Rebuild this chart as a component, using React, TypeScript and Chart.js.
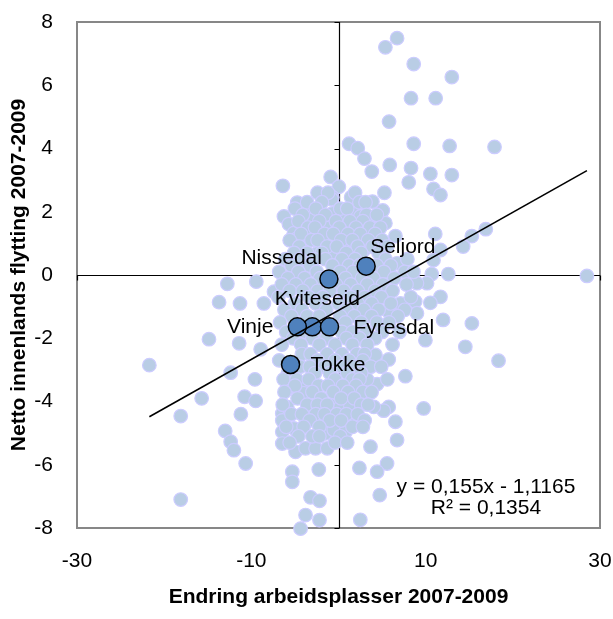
import React, { useEffect, useRef } from "react";
import { Chart, registerables } from "chart.js";

Chart.register(...registerables);

// ---------- DATA ----------
const xTickValues = [-30, -10, 10, 30];
const yTickValues = [-8, -6, -4, -2, 0, 2, 4, 6, 8];

const xTitle = "Endring arbeidsplasser 2007-2009";
const yTitle = "Netto innenlands flytting 2007-2009";

// Highlighted municipalities
const kommuneNames = ["Nissedal", "Seljord", "Kviteseid", "Vinje", "Fyresdal", "Tokke"];
const kommuneX = [-1.1, 3.17, -3.0, -4.72, -1.03, -5.5];
const kommuneY = [-0.13, 0.28, -1.64, -1.64, -1.64, -2.83];

// Trend line (linear regression)
const trendSlope = 0.155;
const trendIntercept = -1.1165;
const trendLabel = ["y = 0,155x - 1,1165", "R² = 0,1354"];

// All other municipalities [x, y]
const upperPoints: [number, number][] = [
  [6.72, 7.49], [5.38, 7.2], [8.63, 6.67], [13.0, 6.26], [8.32, 5.59], [11.15, 5.59],
  [5.8, 4.85], [1.22, 4.15], [2.21, 4.01], [8.63, 4.15], [12.75, 4.08], [17.9, 4.05],
  [2.98, 3.68], [3.82, 3.27], [5.88, 3.48], [8.32, 3.38], [8.06, 2.93], [10.54, 3.2],
  [13.0, 3.16], [10.9, 2.72], [11.7, 2.53], [5.27, 2.6], [-0.9, 3.1], [0.04, 2.79],
  [1.45, 2.46], [3.89, 2.32], [5.08, 2.04], [4.05, 1.64], [5.38, 1.64], [3.02, 1.32],
  [6.53, 1.23], [11.1, 1.3], [15.3, 1.23], [16.9, 1.45], [14.3, 0.9], [11.7, 0.79],
  [10.9, 0.47], [6.72, 0.37], [12.6, 0.03], [10.7, 0.03], [28.5, -0.03],
  [0.6, 1.85], [1.76, 1.95], [2.52, 1.85], [0.8, 1.42], [1.95, 1.1], [1.37, 0.69],
  [4.81, 0.79], [2.9, 0.79], [-0.7, 2.46],
];

const upperLeftPoints: [number, number][] = [
  [-6.38, 2.82], [-4.73, 2.29], [-3.01, 2.04], [-0.7, 1.95], [-6.26, 1.85], [-5.69, 1.61],
  [-3.09, 1.74], [-1.1, 1.55], [-5.12, 1.32], [-4.73, 1.16], [-2.06, 1.21], [-3.97, 1.0],
  [0.6, 1.48], [0.6, 1.05], [-0.92, 0.69], [1.57, 0.69], [-2.44, 0.69], [-0.8, 2.4],
];

const leftPoints: [number, number][] = [
  [-12.75, -0.28], [-9.43, -0.21], [-13.7, -0.86], [-11.3, -0.9], [-8.56, -0.9], [-7.4, -0.53],
  [-14.86, -2.03], [-11.4, -2.16], [-8.93, -2.35], [-21.7, -2.85], [-12.37, -3.09], [-9.59, -3.3],
  [-15.7, -3.9], [-10.77, -3.85], [-9.5, -3.98], [-18.1, -4.46], [-11.2, -4.4], [-13.0, -4.93],
  [-12.37, -5.27], [-12.0, -5.54], [-10.65, -5.96], [-18.1, -7.1],
];

const lowerPoints: [number, number][] = [
  [-6.45, -4.38], [-6.45, -4.96], [-6.45, -5.33], [-5.12, -4.85], [-4.93, -5.59], [-3.78, -5.48],
  [-2.63, -5.48], [-1.29, -5.48], [-5.3, -6.22], [-5.3, -6.54], [-2.26, -6.15], [-3.21, -7.03],
  [-2.18, -7.14], [-3.78, -7.59], [-2.18, -7.75], [-4.35, -8.02], [-3.97, -3.45], [-5.88, -3.59],
  [-3.01, -4.17], [-0.92, -4.11], [0.23, -4.17], [-1.49, -5.01], [-0.54, -4.9], [-5.88, -4.17],
  [-3.97, -3.74], [2.4, -6.1], [2.5, -7.74], [-6.45, -4.6],
];

const rightPoints: [number, number][] = [
  [10.16, -0.26], [9.0, -0.26], [11.7, -0.69], [10.54, -0.88], [8.8, -0.84], [7.1, -0.9],
  [5.76, -1.16], [9.0, -1.21], [12.0, -1.42], [15.3, -1.53], [9.97, -2.06], [14.55, -2.27],
  [18.36, -2.71], [5.76, -2.67], [4.24, -2.53], [7.67, -3.2], [4.43, -3.45], [3.28, -3.3],
  [9.77, -4.22], [5.76, -4.17], [5.19, -4.29], [4.05, -4.17], [6.53, -4.64], [6.72, -5.22],
  [1.95, -4.69], [1.37, -4.17], [3.67, -5.43], [5.57, -5.96], [4.43, -6.22], [4.73, -6.96],
  [0.8, -4.96],
];

const corePoints: [number, number][] = [
  [-2.4, 2.6], [-1.2, 2.6], [1.9, 2.6],
  [-3.6, 2.3], [-1.9, 2.3], [2.4, 2.3], [3.1, 2.3],
  [-5.0, 2.1], [-2.6, 2.1], [0.2, 2.1], [1.0, 2.1],
  [-4.1, 1.9], [-1.5, 1.9], [3.2, 1.9], [4.4, 1.9],
  [-4.6, 1.7], [-2.2, 1.7], [-0.3, 1.7], [1.3, 1.7], [2.8, 1.7],
  [-3.5, 1.5], [-2.7, 1.5], [0.1, 1.5], [2.0, 1.5], [3.6, 1.5], [4.8, 1.5],
  [-4.3, 1.3], [-1.6, 1.3], [-0.6, 1.3], [1.1, 1.3], [2.5, 1.3], [4.2, 1.3],
  [-5.6, 1.1], [-3.1, 1.1], [-2.4, 1.1], [0.3, 1.1], [1.6, 1.1], [3.4, 1.1], [5.0, 1.1],
  [-4.5, 0.9], [-1.3, 0.9], [-0.2, 0.9], [2.2, 0.9], [3.9, 0.9], [5.6, 0.9],
  [-5.1, 0.7], [-3.6, 0.7], [-1.9, 0.7], [0.9, 0.7], [2.6, 0.7], [4.6, 0.7],
  [-6.1, 0.5], [-4.4, 0.5], [-2.8, 0.5], [-1.5, 0.5], [0.4, 0.5], [1.9, 0.5], [5.4, 0.5], [7.9, 0.5],
  [-5.4, 0.3], [-3.3, 0.3], [-0.7, 0.3], [1.2, 0.3], [2.4, 0.3], [4.4, 0.3], [6.0, 0.3],
  [-6.8, 0.1], [-4.6, 0.1], [-2.5, 0.1], [0.2, 0.1], [1.7, 0.1], [5.2, 0.1], [7.6, 0.1], [8.6, 0.1],
  [-5.8, -0.1], [-3.9, -0.1], [-2.1, -0.1], [0.8, -0.1], [2.7, -0.1], [4.0, -0.1], [6.4, -0.1],
  [-6.5, -0.3], [-4.9, -0.3], [-3.2, -0.3], [-0.3, -0.3], [1.4, -0.3], [3.3, -0.3], [5.1, -0.3], [7.8, -0.3],
  [-5.6, -0.5], [-4.1, -0.5], [-2.4, -0.5], [-1.0, -0.5], [0.6, -0.5], [2.2, -0.5], [4.2, -0.5], [6.2, -0.5],
  [-6.9, -0.7], [-3.4, -0.7], [-1.8, -0.7], [1.4, -0.7], [3.0, -0.7], [4.9, -0.7], [8.3, -0.7],
  [-5.0, -0.9], [-2.6, -0.9], [0.0, -0.9], [2.2, -0.9], [3.8, -0.9], [6.0, -0.9],
  [-6.2, -1.1], [-4.2, -1.1], [-1.4, -1.1], [0.9, -1.1], [2.9, -1.1], [4.6, -1.1], [7.6, -1.1],
  [-5.4, -1.3], [-3.6, -1.3], [-2.2, -1.3], [0.2, -1.3], [1.8, -1.3], [3.8, -1.3], [6.8, -1.3],
  [-6.7, -1.5], [0.8, -1.5], [2.6, -1.5], [4.4, -1.5], [5.8, -1.5],
  [-6.0, -1.8], [-3.9, -1.8], [-2.2, -1.8], [0.4, -1.8], [1.6, -1.8], [3.2, -1.8], [5.0, -1.8], [7.0, -1.8],
  [-5.2, -2.0], [-3.0, -2.0], [-1.4, -2.0], [0.9, -2.0], [2.4, -2.0], [4.2, -2.0],
  [-6.5, -2.2], [-4.3, -2.2], [-2.2, -2.2], [-0.4, -2.2], [1.6, -2.2], [3.3, -2.2], [6.2, -2.2],
  [-4.2, -2.5], [-3.2, -2.5], [-1.3, -2.5], [0.4, -2.5], [2.1, -2.5], [3.0, -2.5],
  [-6.8, -2.7], [-2.4, -2.7], [-0.4, -2.7], [1.2, -2.7], [2.8, -2.7],
  [-4.4, -2.9], [-3.3, -2.9], [-1.6, -2.9], [0.4, -2.9], [1.9, -2.9], [3.7, -2.9], [4.9, -2.9],
  [-5.8, -3.1], [-2.7, -3.1], [-1.0, -3.1], [1.0, -3.1], [2.6, -3.1],
  [-6.3, -3.3], [-4.8, -3.3], [-3.4, -3.3], [-0.4, -3.3], [1.6, -3.3], [2.4, -3.3], [5.6, -3.3],
  [-5.0, -3.5], [-2.3, -3.5], [-1.2, -3.5], [0.5, -3.5], [2.0, -3.5],
  [-6.2, -3.7], [-3.0, -3.7], [-0.6, -3.7], [1.1, -3.7], [2.8, -3.7], [3.8, -3.7],
  [-4.7, -3.9], [-2.0, -3.9], [0.3, -3.9], [1.8, -3.9],
  [-6.4, -4.1], [-3.6, -4.1], [-2.4, -4.1], [-1.3, -4.1], [2.6, -4.1], [3.4, -4.1],
  [-5.4, -4.4], [-4.2, -4.4], [-2.6, -4.4], [-1.6, -4.4], [-0.2, -4.4], [0.9, -4.4], [2.2, -4.4],
  [-3.3, -4.6], [-1.0, -4.6], [0.3, -4.6], [3.0, -4.6],
  [-6.0, -4.8], [-4.0, -4.8], [-2.2, -4.8], [1.6, -4.8], [2.8, -4.8],
  [-4.6, -5.1], [-3.0, -5.1], [-2.2, -5.1], [0.2, -5.1],
  [-5.6, -5.3], [-0.4, -5.3], [1.0, -5.3],
];

// ---------- STYLE ----------
const FONT = "'Liberation Sans', Arial, sans-serif";
const lightFill = "#b9cde5";
const lightBorder = "#ccccff";
const darkFill = "#4f81bd";

const labelPlacement: Record<string, { align: CanvasTextAlign; dx: number; dy: number }> = {
  Nissedal: { align: "right", dx: -7, dy: -21 },
  Seljord: { align: "left", dx: 4, dy: -19 },
  Kviteseid: { align: "center", dx: 5, dy: -28 },
  Vinje: { align: "right", dx: -24, dy: 0 },
  Fyresdal: { align: "left", dx: 24, dy: 1 },
  Tokke: { align: "left", dx: 20, dy: 1 },
};

const axesPlugin = {
  id: "zeroAxes",
  beforeDatasetsDraw(chart: any) {
    const { ctx, chartArea, scales } = chart;
    const { left, right, top, bottom } = chartArea;
    const xs = scales.x;
    const ys = scales.y;
    ctx.save();
    ctx.strokeStyle = "#878787";
    ctx.lineWidth = 2;
    ctx.strokeRect(left, top, right - left, bottom - top);
    const x0 = Math.round(xs.getPixelForValue(0)) + 0.5;
    const y0 = Math.round(ys.getPixelForValue(0)) + 0.5;
    ctx.strokeStyle = "#000";
    ctx.lineWidth = 1.2;
    ctx.beginPath();
    ctx.moveTo(x0, top);
    ctx.lineTo(x0, bottom);
    ctx.moveTo(left, y0);
    ctx.lineTo(right, y0);
    yTickValues.forEach((v) => {
      const py = Math.round(ys.getPixelForValue(v)) + 0.5;
      ctx.moveTo(x0 - 5, py);
      ctx.lineTo(x0, py);
    });
    xTickValues.forEach((v) => {
      const px = Math.round(xs.getPixelForValue(v)) + 0.5;
      ctx.moveTo(px, y0);
      ctx.lineTo(px, y0 + 5);
    });
    ctx.stroke();
    ctx.restore();
  },
};

const labelsPlugin = {
  id: "pointLabels",
  afterDatasetsDraw(chart: any) {
    const { ctx, chartArea } = chart;
    const meta = chart.getDatasetMeta(1);
    ctx.save();
    ctx.font = `21px ${FONT}`;
    ctx.fillStyle = "#000";
    ctx.textBaseline = "middle";
    meta.data.forEach((el: any, i: number) => {
      const name = kommuneNames[i];
      const p = labelPlacement[name];
      ctx.textAlign = p.align;
      ctx.fillText(name, el.x + p.dx, el.y + p.dy);
    });
    ctx.textAlign = "center";
    const cx = chartArea.right - 114;
    ctx.fillText(trendLabel[0], cx, chartArea.bottom - 41);
    ctx.fillText(trendLabel[1], cx, chartArea.bottom - 20);
    ctx.restore();
  },
};

const zeroPadding = (s: any) => {
  s.paddingLeft = 0;
  s.paddingRight = 0;
  s.paddingTop = 0;
  s.paddingBottom = 0;
};

export default function App() {
  const canvasRef = useRef<HTMLCanvasElement | null>(null);

  useEffect(() => {
    if (!canvasRef.current) return;
    const others = [...upperPoints, ...upperLeftPoints, ...leftPoints, ...lowerPoints, ...rightPoints, ...corePoints];
    const allX = [...others.map((p) => p[0]), ...kommuneX];
    const minX = Math.min(...allX);
    const maxX = Math.max(...allX);

    const chart = new Chart(canvasRef.current, {
      type: "scatter",
      data: {
        datasets: [
          {
            label: "Lineær trend",
            data: [
              { x: minX, y: trendSlope * minX + trendIntercept },
              { x: maxX, y: trendSlope * maxX + trendIntercept },
            ],
            showLine: true,
            borderColor: "#000",
            borderWidth: 1.6,
            pointRadius: 0,
            order: 0,
            clip: false as any,
          },
          {
            label: "Kommuner",
            data: kommuneX.map((x, i) => ({ x, y: kommuneY[i] })),
            backgroundColor: darkFill,
            borderColor: "#000",
            borderWidth: 1.5,
            pointRadius: 9,
            order: 1,
            clip: false as any,
          },
          {
            label: "Alle kommuner",
            data: others.map((p) => ({ x: p[0], y: p[1] })),
            backgroundColor: lightFill,
            borderColor: lightBorder,
            borderWidth: 1.2,
            pointRadius: 6.8,
            order: 2,
            clip: false as any,
          },
        ],
      },
      options: {
        animation: false,
        responsive: false,
        devicePixelRatio: 1,
        layout: { padding: { top: 22, right: 13, left: 0, bottom: 0 } },
        plugins: { legend: { display: false }, tooltip: { enabled: false } },
        scales: {
          x: {
            type: "linear",
            position: "bottom",
            min: -30,
            max: 30,
            afterBuildTicks: (s: any) => {
              s.ticks = xTickValues.map((v) => ({ value: v }));
            },
            afterFit: (s: any) => {
              s.height = 91;
              zeroPadding(s);
            },
            ticks: {
              font: { family: FONT, size: 21 },
              color: "#000",
              padding: 21,
              maxRotation: 0,
              autoSkip: false,
              callback: (v: any) => String(v),
            },
            grid: { display: false, drawTicks: false },
            border: { display: false },
            title: {
              display: true,
              text: xTitle,
              color: "#000",
              font: { family: FONT, size: 21, weight: "bold" },
              padding: { top: 0, bottom: 9 },
            },
          },
          y: {
            type: "linear",
            min: -8,
            max: 8,
            afterBuildTicks: (s: any) => {
              s.ticks = yTickValues.map((v) => ({ value: v }));
            },
            afterFit: (s: any) => {
              s.width = 77;
              zeroPadding(s);
            },
            ticks: {
              font: { family: FONT, size: 21 },
              color: "#000",
              padding: 24,
              autoSkip: false,
              callback: (v: any) => String(v),
            },
            grid: { display: false, drawTicks: false },
            border: { display: false },
            title: {
              display: true,
              text: yTitle,
              color: "#000",
              font: { family: FONT, size: 21, weight: "bold" },
              padding: { top: 7, bottom: 0 },
            },
          },
        },
      },
      plugins: [axesPlugin, labelsPlugin],
    });
    return () => chart.destroy();
  }, []);

  return (
    <div style={{ position: "absolute", left: 0, top: 0, width: 613, height: 619, background: "#fff" }}>
      <canvas ref={canvasRef} width={613} height={619} style={{ display: "block" }} />
    </div>
  );
}
